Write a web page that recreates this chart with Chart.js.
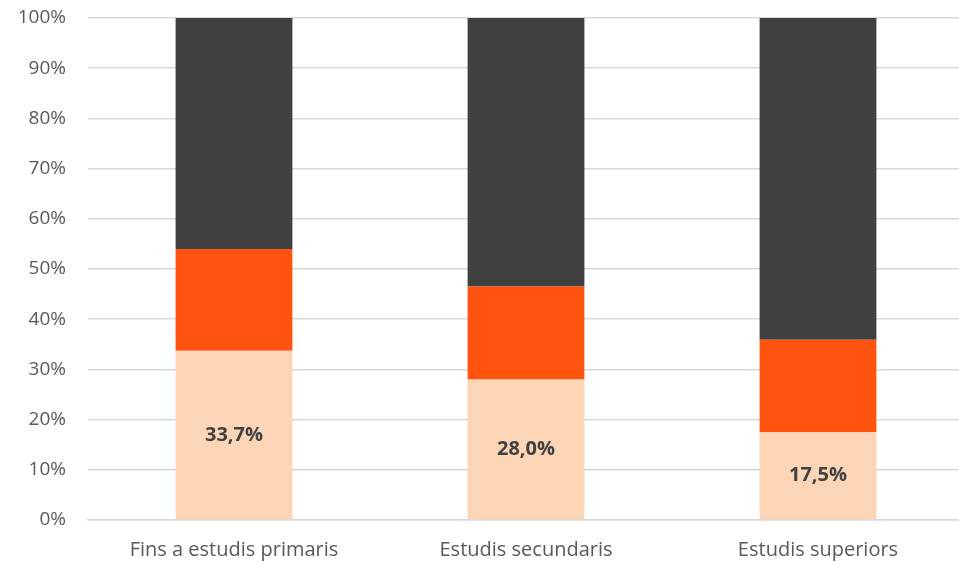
<!DOCTYPE html>
<html>
<head>
<meta charset="utf-8">
<script src="https://cdn.jsdelivr.net/npm/chart.js@4"></script>
<style>
  html, body { margin: 0; padding: 0; background: #fff; overflow: hidden; }
  #wrap { width: 959px; height: 562px; overflow: hidden; }
</style>
</head>
<body>
<div id="wrap"><canvas id="chart" width="964" height="562"></canvas></div>
<script>
// categories and values (percentages)
const categories = ['Fins a estudis primaris', 'Estudis secundaris', 'Estudis superiors'];
const lowSeries = [33.7, 28.0, 17.5];
const midSeries = [20.3, 18.5, 18.4];
const topSeries = [46.0, 53.5, 64.1];
const yTicks = [0, 10, 20, 30, 40, 50, 60, 70, 80, 90, 100];

const FONT = '"Open Sans", "DejaVu Sans", sans-serif';

// labels inside the bottom segment
const segmentLabels = {
    id: 'segmentLabels',
    afterDatasetsDraw(chart) {
        const c = chart.ctx;
        const meta = chart.getDatasetMeta(0);
        c.save();
        c.font = 'bold 20px ' + FONT;
        c.fillStyle = '#404040';
        c.textAlign = 'center';
        c.textBaseline = 'middle';
        meta.data.forEach((bar, i) => {
            const txt = lowSeries[i].toFixed(1).replace('.', ',') + '%';
            c.fillText(txt, bar.x, (bar.y + bar.base) / 2);
        });
        c.restore();
    }
};

new Chart(document.getElementById('chart').getContext('2d'), {
    type: 'bar',
    data: {
        labels: categories,
        datasets: [
            { data: lowSeries, backgroundColor: '#FBD5B5' },
            { data: midSeries, backgroundColor: '#FF530F' },
            { data: topSeries, backgroundColor: '#404040' }
        ]
    },
    options: {
        responsive: false,
        animation: false,
        events: [],
        layout: { padding: { top: 18, right: 0, left: 0, bottom: 0 } },
        datasets: { bar: { barPercentage: 0.4, categoryPercentage: 1.0 } },
        plugins: { legend: { display: false }, tooltip: { enabled: false } },
        scales: {
            x: {
                stacked: true,
                grid: { display: false },
                border: { color: '#D9D9D9', width: 1.5 },
                ticks: { color: '#595959', font: { family: FONT, size: 20 }, padding: 10, maxRotation: 0 },
                afterFit(s) { s.height = 42; s.paddingLeft = 0; s.paddingRight = 0; }
            },
            y: {
                stacked: true,
                min: 0,
                max: 100,
                afterBuildTicks(s) { s.ticks = yTicks.map(v => ({ value: v })); },
                grid: { color: '#D9D9D9', lineWidth: 1.5, drawTicks: false },
                border: { display: false },
                ticks: {
                    color: '#595959',
                    font: { family: FONT, size: 19 },
                    padding: 22,
                    callback: v => v + '%'
                },
                afterFit(s) { s.width = 88; s.paddingTop = 0; s.paddingBottom = 0; }
            }
        }
    },
    plugins: [segmentLabels]
});
</script>
</body>
</html>
